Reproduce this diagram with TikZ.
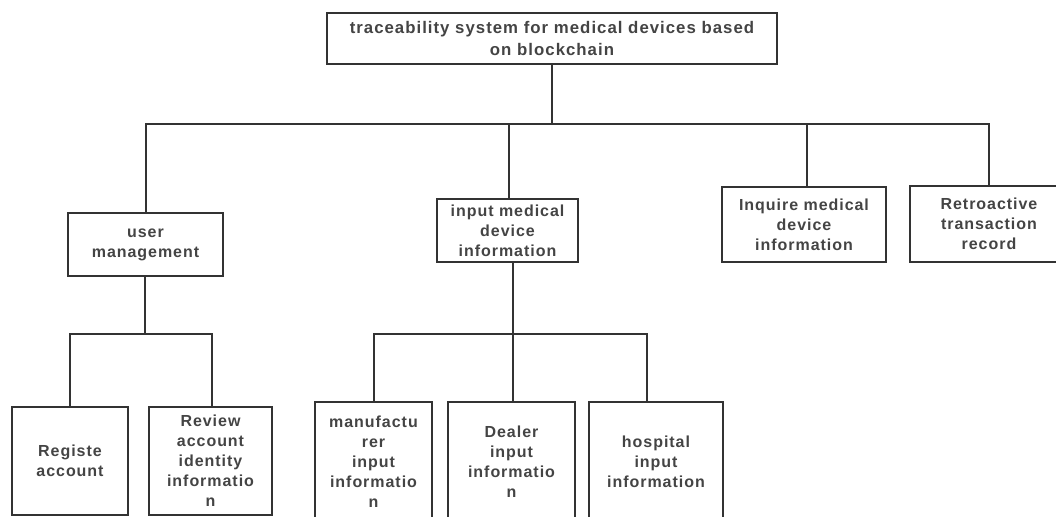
\documentclass[tikz,border=0pt]{standalone}
\usepackage{fontspec}
\newfontfamily\lbl{Liberation Sans}[LetterSpace=6]
\begin{document}
\definecolor{linec}{HTML}{333333}
\definecolor{txtc}{HTML}{444444}
\begin{tikzpicture}[x=0.75pt,y=-0.75pt,
  box/.style={draw=linec, line width=1.5pt, align=center, inner sep=0pt,
    text=txtc, font=\lbl\bfseries\fontsize{12}{15}\selectfont},
  sz/.style 2 args={minimum width=#1*0.75pt, minimum height=#2*0.75pt},
  link/.style={draw=linec, line width=1.5pt}]
\useasboundingbox (0,0) rectangle (1056,517);
\clip (0,0) rectangle (1056,517);

% boxes
\node[box, sz={450}{51}, font=\lbl\bfseries\fontsize{12.6}{16.5}\selectfont] (root) at (552,38.5)
  {traceability system for medical devices based\\on blockchain};
\node[box, sz={155}{63}] (user) at (145.5,244.5) {user\\management};
\node[box, sz={141}{63}] (input) at (507.5,230.5) {input medical\\device\\information};
\node[box, sz={164}{75}] (inquire) at (804,224.5) {Inquire medical\\device\\information};
\node[box, sz={158}{76}] (retro) at (989,224) {Retroactive\\transaction\\record};

\node[box, sz={116}{108}] (registe) at (70,461) {Registe\\account};
\node[box, sz={123}{108}] (review) at (210.5,461) {Review\\account\\identity\\informatio\\n};
\node[box, sz={117}{120}] (manuf) at (373.5,462) {manufactu\\rer\\input\\informatio\\n};
\node[box, sz={127}{120}] (dealer) at (511.5,462) {Dealer\\input\\informatio\\n};
\node[box, sz={134}{120}] (hospital) at (656,462) {hospital\\input\\information};

% bus levels
\coordinate (toplevel) at (0,124);
\coordinate (sublevel) at (0,334);
\coordinate (bus) at (root.south |- toplevel);

% attachment points on the box edges
\coordinate (userS) at ([xshift=-0.375pt]user.south);
\coordinate (inputN) at ([xshift=1.125pt]input.north);
\coordinate (inputS) at ([xshift=3.75pt]input.south);
\coordinate (inquireN) at ([xshift=2.25pt]inquire.north);
\coordinate (reviewN) at ([xshift=1.125pt]review.north);
\coordinate (dealerN) at ([xshift=1.125pt]dealer.north);
\coordinate (hospitalN) at ([xshift=-6.75pt]hospital.north);
\coordinate (ubus) at (userS |- sublevel);
\coordinate (ibus) at (inputS |- sublevel);

% connectors
\draw[link] (root.south) -- (bus);
\draw[link] (user.north) |- (bus) -| (retro.north);
\draw[link] (bus) -| (inputN);
\draw[link] (bus) -| (inquireN);

\draw[link] (userS) -- (ubus);
\draw[link] (registe.north) |- (ubus) -| (reviewN);

\draw[link] (inputS) -- (ibus);
\draw[link] (manuf.north) |- (ibus) -| (hospitalN);
\draw[link] (dealerN) -- (dealerN |- ibus);
\end{tikzpicture}
\end{document}
